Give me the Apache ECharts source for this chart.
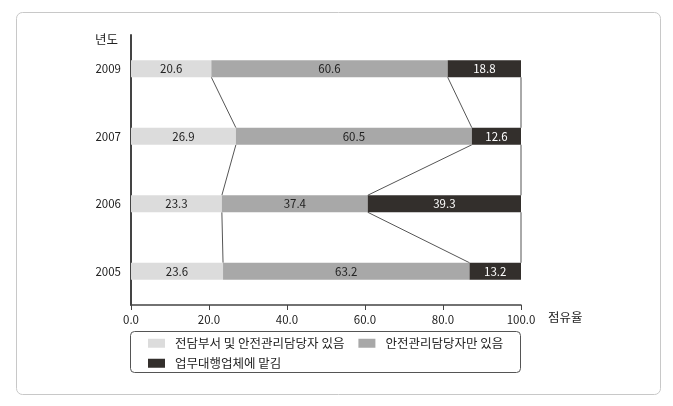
<!DOCTYPE html>
<html><head><meta charset="utf-8">
<script src="https://cdn.jsdelivr.net/npm/echarts@6/dist/echarts.min.js"></script>
<style>html,body{margin:0;padding:0;background:#fff}#c{width:673px;height:406px}</style>
</head><body><div id="c"></div>
<script>
const years = ['2005', '2006', '2007', '2009'];
const seriesNames = ['전담부서 및 안전관리담당자 있음', '안전관리담당자만 있음', '업무대행업체에 맡김'];
const both = [23.6, 23.3, 26.9, 20.6];
const managerOnly = [63.2, 37.4, 60.5, 60.6];
const outsourced = [13.2, 39.3, 12.6, 18.8];
const xTicks = [0, 20, 40, 60, 80, 100];

const font = '"Noto Sans CJK KR","Noto Sans",sans-serif';
const chart = echarts.init(document.getElementById('c'));
const BAR = 17;
const pairs = [];
for (let i = 0; i < years.length - 1; i++) pairs.push([i + 1, i]);

const legendBase = {
  left: 143, itemWidth: 17, itemHeight: 9, itemGap: 14, icon: 'rect', orient: 'horizontal',
  textStyle: {fontSize: 12.5, color: '#222', fontFamily: font, padding: [0, 0, 0, 5]}
};

chart.setOption({
  animation: false,
  textStyle: {fontFamily: font},
  grid: {left: 131, right: 152, top: 35, bottom: 101},
  xAxis: {
    type: 'value', min: xTicks[0], max: xTicks[xTicks.length - 1], interval: 20,
    axisLine: {show: true, lineStyle: {color: '#444', width: 1.5}},
    axisTick: {show: true, length: 5, lineStyle: {color: '#444'}},
    splitLine: {show: false},
    axisLabel: {formatter: v => v.toFixed(1), color: '#222', fontSize: 11.5, margin: 9, fontFamily: font}
  },
  yAxis: {
    type: 'category', data: years,
    axisLine: {show: true, lineStyle: {color: '#444', width: 2}},
    axisTick: {show: false},
    axisLabel: {color: '#222', fontSize: 11.5, margin: 10, fontFamily: font}
  },
  legend: [
    Object.assign({}, legendBase, {top: 332, data: seriesNames.slice(0, 2)}),
    Object.assign({}, legendBase, {top: 352, data: seriesNames.slice(2)})
  ],
  graphic: [
    {type: 'rect', shape: {x: 16.5, y: 12.5, width: 644, height: 382, r: 6}, style: {fill: 'none', stroke: '#c8c8c8', lineWidth: 1}, silent: true, z: -1},
    {type: 'rect', shape: {x: 130.5, y: 331.5, width: 390, height: 41, r: 4}, style: {fill: 'none', stroke: '#555', lineWidth: 1}, silent: true},
    {type: 'text', left: 95, top: 33, style: {text: '년도', fontSize: 12.5, fill: '#222', fontFamily: font}},
    {type: 'text', left: 548, top: 311, style: {text: '점유율', fontSize: 12.5, fill: '#222', fontFamily: font}}
  ],
  series: [
    {name: seriesNames[0], type: 'bar', stack: 'a', barWidth: BAR, data: both,
     itemStyle: {color: '#dcdcdc'},
     label: {show: true, position: 'inside', color: '#222', fontSize: 11.5, formatter: p => p.value.toFixed(1)}},
    {name: seriesNames[1], type: 'bar', stack: 'a', barWidth: BAR, data: managerOnly,
     itemStyle: {color: '#a8a8a8'},
     label: {show: true, position: 'inside', color: '#222', fontSize: 11.5, formatter: p => p.value.toFixed(1)}},
    {name: seriesNames[2], type: 'bar', stack: 'a', barWidth: BAR, data: outsourced,
     itemStyle: {color: '#332f2c'},
     label: {show: true, position: 'inside', color: '#fff', fontSize: 11.5, formatter: p => p.value.toFixed(1)}},
    {type: 'custom', silent: true, data: pairs, z: 1,
     renderItem: function (params, api) {
       const up = api.value(0), lo = api.value(1);
       const cumUp = [both[up], both[up] + managerOnly[up], both[up] + managerOnly[up] + outsourced[up]];
       const cumLo = [both[lo], both[lo] + managerOnly[lo], both[lo] + managerOnly[lo] + outsourced[lo]];
       const children = [];
       for (let k = 0; k < 3; k++) {
         const a = api.coord([cumUp[k], up]);
         const b = api.coord([cumLo[k], lo]);
         children.push({type: 'line', shape: {x1: a[0], y1: a[1] + BAR / 2, x2: b[0], y2: b[1] - BAR / 2},
           style: {stroke: '#555', lineWidth: 1}});
       }
       return {type: 'group', children: children};
     }}
  ]
});
</script></body></html>
